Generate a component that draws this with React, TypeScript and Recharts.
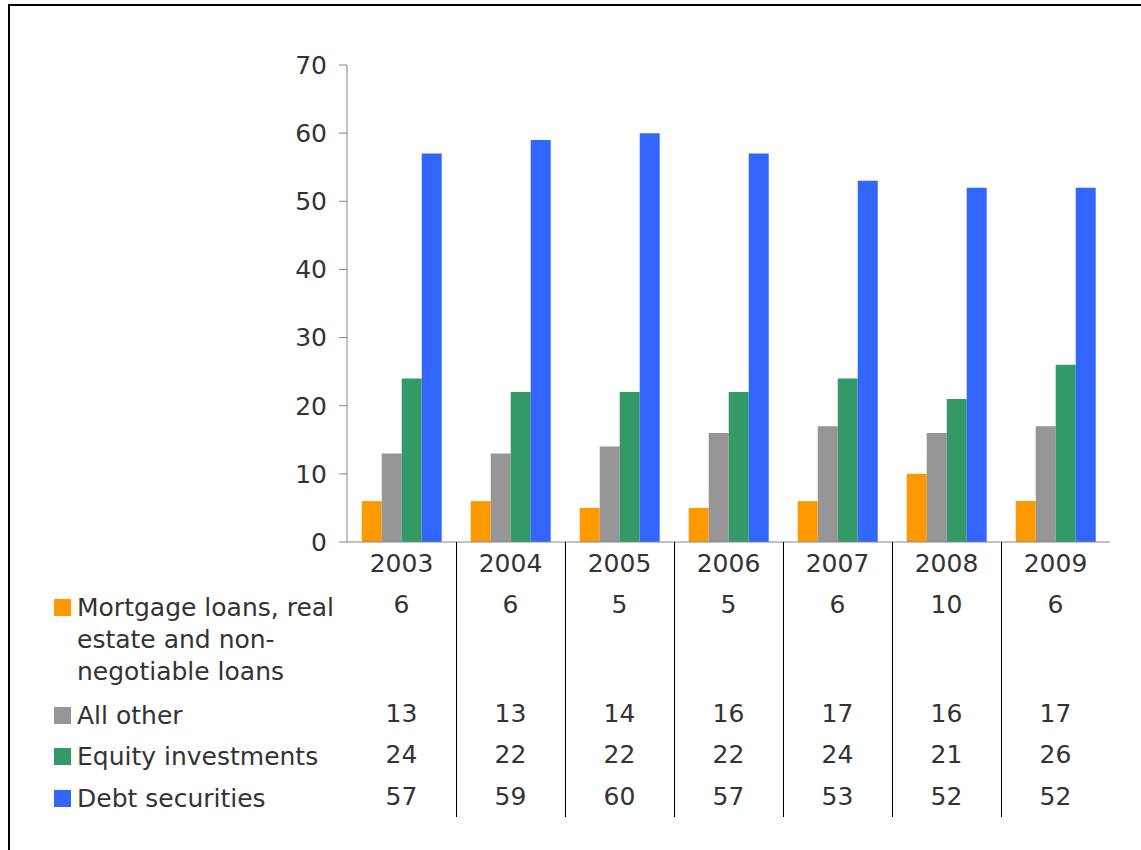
import React from "react";
import { BarChart, Bar, XAxis, YAxis } from "recharts";

const years = ["2003", "2004", "2005", "2006", "2007", "2008", "2009"];
const mortgage = [6, 6, 5, 5, 6, 10, 6];
const allOther = [13, 13, 14, 16, 17, 16, 17];
const equity = [24, 22, 22, 22, 24, 21, 26];
const debt = [57, 59, 60, 57, 53, 52, 52];
const yTicks = [0, 10, 20, 30, 40, 50, 60, 70];

const seriesKeys = ["mortgage", "allOther", "equity", "debt"];
const seriesNames = [
  "Mortgage loans, real estate and non-negotiable loans",
  "All other",
  "Equity investments",
  "Debt securities",
];
const seriesLabelLines = [
  ["Mortgage loans, real", "estate and non-", "negotiable loans"],
  ["All other"],
  ["Equity investments"],
  ["Debt securities"],
];
const seriesColors = ["#FF9900", "#969696", "#339966", "#3366FF"];
const seriesValues = [mortgage, allOther, equity, debt];

const data = years.map((y, i) => ({
  year: y,
  mortgage: mortgage[i],
  allOther: allOther[i],
  equity: equity[i],
  debt: debt[i],
}));

const FONT = "'DejaVu Sans', Verdana, sans-serif";
const TEXT = "#333333";
const FS = 25;

// baselines relative to the axis line
const yearDy = 30;
const valueDy = [71, 180, 221, 263];
const labelDy = [74, 182, 223, 265];
const lineGap = 32;
const tableBottom = 275;

const TableTick = (props: any) => {
  const { x, y, payload, index } = props;
  const half = payload && payload.offset ? payload.offset : 54.5;
  const left = x - half;
  const lx = Math.round(left) + 0.5;
  return (
    <g>
      {index > 0 && (
        <line x1={lx} x2={lx} y1={y} y2={y + tableBottom} stroke="#000" strokeWidth={1} />
      )}
      <text x={x} y={y + yearDy} textAnchor="middle" fontSize={FS} fontFamily={FONT} fill={TEXT}>
        {payload.value}
      </text>
      {seriesValues.map((vals, si) => (
        <text
          key={si}
          x={x}
          y={y + valueDy[si]}
          textAnchor="middle"
          fontSize={FS}
          fontFamily={FONT}
          fill={TEXT}
        >
          {vals[index]}
        </text>
      ))}
      {index === 0 &&
        seriesLabelLines.map((lines, si) => (
          <g key={"lab" + si}>
            <rect x={left - 293} y={y + labelDy[si] - 17} width={17} height={17} fill={seriesColors[si]} />
            {lines.map((ln, li) => (
              <text
                key={li}
                x={left - 270}
                y={y + labelDy[si] + li * lineGap}
                fontSize={FS}
                fontFamily={FONT}
                fill={TEXT}
              >
                {ln}
              </text>
            ))}
          </g>
        ))}
    </g>
  );
};

export default function App() {
  return (
    <div
      style={{
        position: "absolute",
        left: 0,
        top: 0,
        width: 1141,
        height: 850,
        overflow: "hidden",
        background: "#fff",
      }}
    >
      <div
        style={{
          position: "absolute",
          left: 8,
          top: 4,
          width: 1300,
          height: 1000,
          border: "2px solid #000",
          boxSizing: "border-box",
        }}
      />
      <div style={{ position: "absolute", left: 0, top: 0 }}>
        <BarChart
          width={1141}
          height={850}
          data={data}
          margin={{ top: 65, right: 31, left: 287, bottom: 28 }}
          barCategoryGap="13.5%"
          barGap={0}
        >
          <YAxis
            width={60}
            domain={[0, 70]}
            ticks={yTicks}
            interval={0}
            axisLine={{ stroke: "#868686" }}
            tickLine={{ stroke: "#868686" }}
            tickSize={8}
            tickMargin={12}
            tick={{ fontSize: FS, fontFamily: FONT, fill: TEXT }}
          />
          <XAxis
            dataKey="year"
            height={280}
            interval={0}
            axisLine={{ stroke: "#868686" }}
            tickLine={false}
            tickSize={0}
            tickMargin={0}
            tick={<TableTick />}
          />
          {seriesKeys.map((k, i) => (
            <Bar
              key={k}
              dataKey={k}
              name={seriesNames[i]}
              fill={seriesColors[i]}
              isAnimationActive={false}
            />
          ))}
        </BarChart>
      </div>
    </div>
  );
}
